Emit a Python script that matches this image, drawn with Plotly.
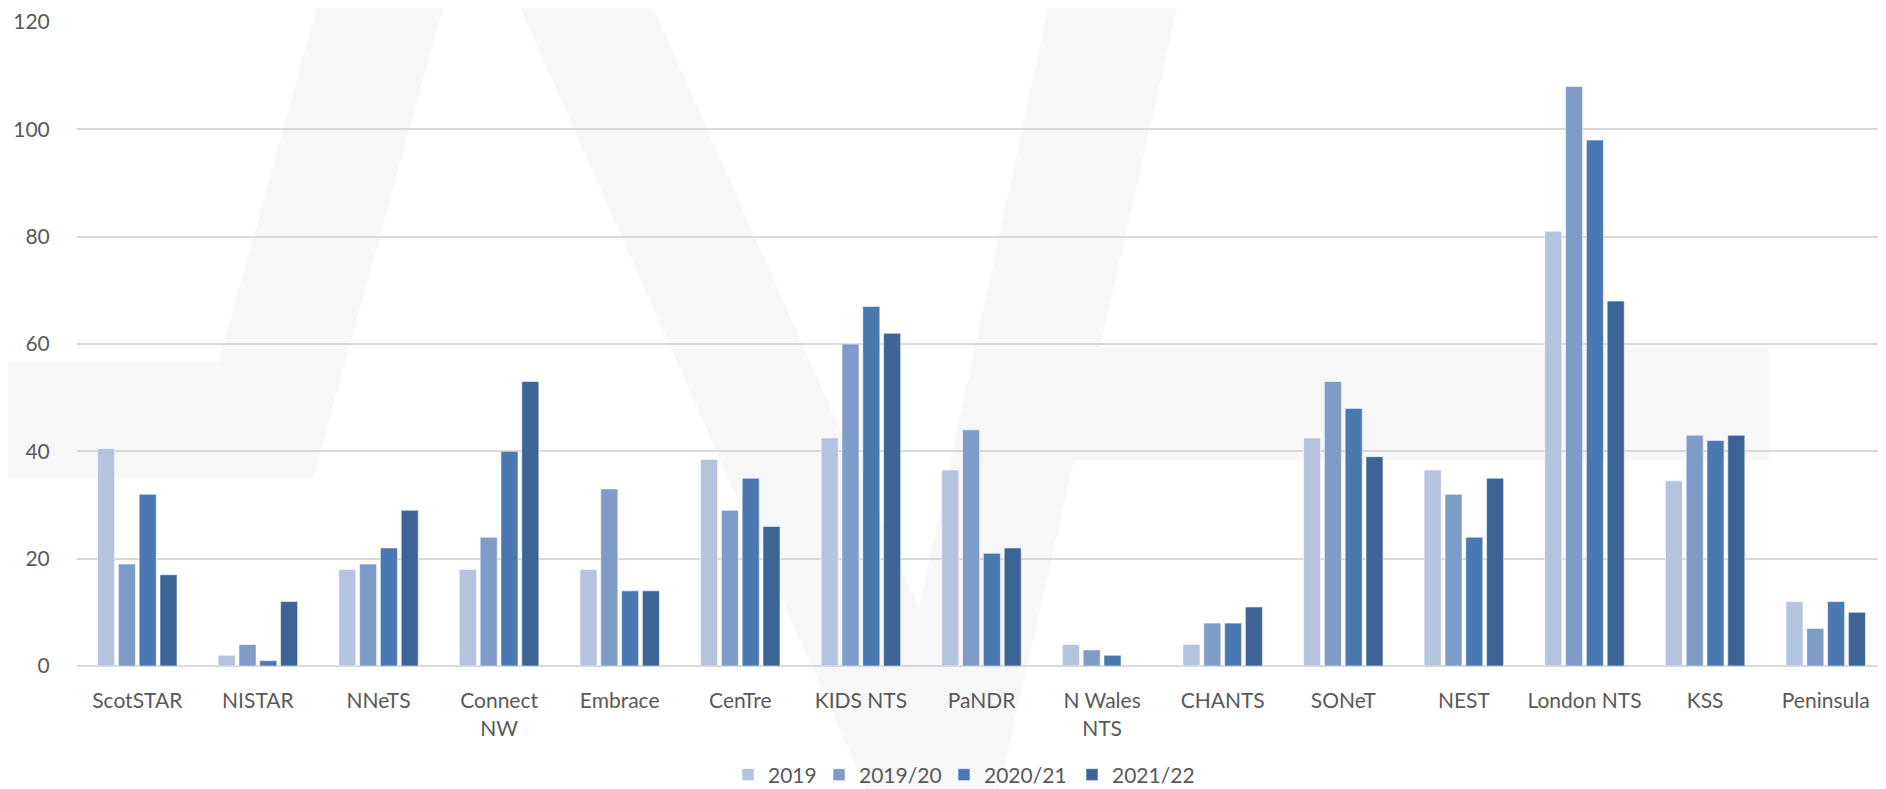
import plotly.graph_objects as go

categories = ["ScotSTAR", "NISTAR", "NNeTS", "Connect<br>NW", "Embrace", "CenTre",
              "KIDS NTS", "PaNDR", "N Wales<br>NTS", "CHANTS", "SONeT", "NEST",
              "London NTS", "KSS", "Peninsula"]

v2019   = [40.5, 2, 18, 18, 18, 38.5, 42.5, 36.5, 4, 4, 42.5, 36.5, 81, 34.5, 12]
v201920 = [19, 4, 19, 24, 33, 29, 60, 44, 3, 8, 53, 32, 108, 43, 7]
v202021 = [32, 1, 22, 40, 14, 35, 67, 21, 2, 8, 48, 24, 98, 42, 12]
v202122 = [17, 12, 29, 53, 14, 26, 62, 22, None, 11, 39, 35, 68, 43, 10]

series_names = ["2019", "2019/20", "2020/21", "2021/22"]
series_vals = [v2019, v201920, v202021, v202122]
colors = ["#B4C4DF", "#7F9CC8", "#4A78B0", "#3C6496"]
legend_widths = [46, 80, 83, 80]

y_ticks = [0, 20, 40, 60, 80, 100, 120]

# page body has an 8px margin; compensate so the chart lands where the reference is
OFF = 8
W, H = 1886 - OFF, 789 - OFF
L, R, T, B = 77 - OFF, 0, 22 - OFF, 123
PW, PH = W - L - R, H - T - B

def px(x):
    return (x - OFF - L) / PW

def py(y):
    return (H - B - (y - OFF)) / PH

fig = go.Figure()
for name, vals, col, lw in zip(series_names, series_vals, colors, legend_widths):
    fig.add_trace(go.Bar(
        x=categories, y=vals, name=name, legendwidth=lw,
        marker=dict(color=col, line=dict(color="rgba(255,255,255,0.55)", width=1)),
    ))

# faint background watermark (decoration)
wm = "#f7f7f7"
polys = [
    [(319, 0), (445, 0), (313, 478), (187, 478)],
    [(0, 362), (300, 362), (300, 478), (0, 478)],
    [(517, 0), (650, 0), (999, 789), (866, 789)],
    [(1050, 0), (1179, 0), (999, 789), (880, 789)],
    [(987, 347), (1769, 347), (1769, 460), (987, 460)],
]
shapes = []
for p in polys:
    path = "M " + " L ".join(f"{px(x):.4f},{py(y):.4f}" for x, y in p) + " Z"
    shapes.append(dict(type="path", path=path, xref="paper", yref="paper",
                       fillcolor=wm, line=dict(width=0), layer="below"))

font = dict(family="Lato, Carlito, Calibri, sans-serif", size=21, color="#595959")

fig.update_layout(
    width=W, height=H,
    margin=dict(l=L, r=R, t=T, b=B, pad=0, autoexpand=False),
    paper_bgcolor="white", plot_bgcolor="rgba(0,0,0,0)",
    font=font,
    barmode="group", bargap=0.31, bargroupgap=0.18,
    shapes=shapes,
    showlegend=True,
    legend=dict(orientation="h", x=px(728), xanchor="left", y=py(775), yanchor="middle",
                font=font, bgcolor="rgba(0,0,0,0)", itemwidth=30, tracegroupgap=0),
    xaxis=dict(showgrid=False, showline=False, zeroline=False, automargin=False,
               ticks="outside", ticklen=16, tickcolor="rgba(0,0,0,0)",
               tickfont=font, fixedrange=True),
    yaxis=dict(range=[0, 120], tickvals=y_ticks, ticktext=[str(v) for v in y_ticks],
               automargin=False,
               showgrid=True, gridcolor="#d9d9d9", gridwidth=1.5,
               zeroline=True, zerolinecolor="#d9d9d9", zerolinewidth=2,
               showline=False, ticks="outside", ticklen=22, tickcolor="rgba(0,0,0,0)",
               tickfont=font, fixedrange=True),
)

fig.write_html("out.html")
